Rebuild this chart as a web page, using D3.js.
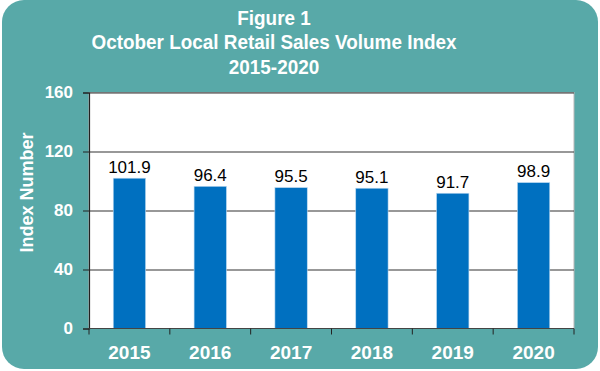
<!DOCTYPE html>
<html>
<head>
<meta charset="utf-8">
<script src="https://cdn.jsdelivr.net/npm/d3@7"></script>
<style>
  body { margin: 0; background: #fff; }
  svg { display: block; font-family: Arial, "Liberation Sans", sans-serif; }
</style>
</head>
<body>
<div id="chart"></div>
<script>
// data
var years = ["2015", "2016", "2017", "2018", "2019", "2020"];
var values = [101.9, 96.4, 95.5, 95.1, 91.7, 98.9];
var yTicks = [0, 40, 80, 120, 160];
var titleLines = ["Figure 1", "October Local Retail Sales Volume Index", "2015-2020"];

var width = 600, height = 371;
var margin = {top: 92.5, right: 26, bottom: 42.5, left: 89};
var w = width - margin.left - margin.right,
    h = height - margin.top - margin.bottom;

var svg = d3.select("#chart").append("svg")
    .attr("width", width)
    .attr("height", height);

// teal panel
svg.append("rect")
    .attr("x", 2).attr("y", 0)
    .attr("width", 596).attr("height", 369)
    .attr("rx", 22).attr("ry", 22)
    .attr("fill", "#58A9A8");

// title (slightly condensed like the original)
svg.append("g")
    .attr("transform", "translate(274,0)scale(0.9,1)")
    .selectAll("text")
    .data(titleLines)
    .enter().append("text")
    .attr("x", 0)
    .attr("y", function(d, i) { return 25 + i * 24.3; })
    .attr("text-anchor", "middle")
    .attr("fill", "#fff")
    .attr("font-weight", "bold")
    .attr("font-size", "21px")
    .text(function(d) { return d; });

var g = svg.append("g")
    .attr("transform", "translate(" + margin.left + "," + margin.top + ")");

var x = d3.scaleBand().domain(years).range([0, w]).paddingInner(0.6).paddingOuter(0.3);
var y = d3.scaleLinear().domain([0, 160]).range([h, 0]);

// plot area
g.append("rect")
    .attr("width", w).attr("height", h)
    .attr("fill", "#fff")
    .attr("stroke", "#b8b8b8")
    .attr("stroke-width", 1);

// gridlines
g.selectAll(".grid")
    .data(yTicks.filter(function(d) { return d > 0; }))
    .enter().append("line")
    .attr("x1", 0).attr("x2", w)
    .attr("y1", function(d) { return Math.round(y(d)) + 0.5; })
    .attr("y2", function(d) { return Math.round(y(d)) + 0.5; })
    .attr("stroke", "#333")
    .attr("stroke-width", 1.2);

// bars
g.selectAll(".bar")
    .data(values)
    .enter().append("rect")
    .attr("x", function(d, i) { return x(years[i]); })
    .attr("width", x.bandwidth())
    .attr("y", function(d) { return y(d); })
    .attr("height", function(d) { return h - y(d); })
    .attr("fill", "#0070C0")
    .attr("stroke", "#bcd9f0")
    .attr("stroke-width", 0.6);

// value labels
g.selectAll(".val")
    .data(values)
    .enter().append("text")
    .attr("x", function(d, i) { return x(years[i]) + x.bandwidth() / 2; })
    .attr("y", function(d) { return y(d) - 5.5; })
    .attr("text-anchor", "middle")
    .attr("font-size", "17px")
    .attr("fill", "#000")
    .text(function(d) { return d.toFixed(1); });

// y axis
var yAxis = g.append("g")
    .call(d3.axisLeft(y).tickValues(yTicks).tickSize(6).tickPadding(10));
yAxis.select(".domain").attr("stroke", "#222").attr("stroke-width", 1.2);
yAxis.selectAll(".tick line").attr("stroke", "#222");
yAxis.selectAll(".tick text")
    .attr("fill", "#fff").attr("font-size", "17px").attr("font-weight", "bold")
    .attr("font-family", "Arial, 'Liberation Sans', sans-serif");

// x axis: ticks at category boundaries
var bounds = d3.range(years.length + 1).map(function(i) { return i * w / years.length; });
var xAxis = g.append("g").attr("transform", "translate(0," + h + ")");
xAxis.append("line")
    .attr("x1", 0).attr("x2", w)
    .attr("stroke", "#444").attr("stroke-width", 1.2);
xAxis.selectAll(".xt")
    .data(bounds)
    .enter().append("line")
    .attr("x1", function(d) { return d; }).attr("x2", function(d) { return d; })
    .attr("y1", 0).attr("y2", 6)
    .attr("stroke", "#222");
xAxis.selectAll(".xl")
    .data(years)
    .enter().append("text")
    .attr("x", function(d) { return x(d) + x.bandwidth() / 2; })
    .attr("y", 30)
    .attr("text-anchor", "middle")
    .attr("fill", "#fff")
    .attr("font-size", "19px")
    .attr("font-weight", "bold")
    .text(function(d) { return d; });

// y label
svg.append("text")
    .attr("transform", "translate(33,192.5)rotate(-90)")
    .attr("text-anchor", "middle")
    .attr("fill", "#fff")
    .attr("font-size", "18px")
    .attr("font-weight", "bold")
    .text("Index Number");
</script>
</body>
</html>
